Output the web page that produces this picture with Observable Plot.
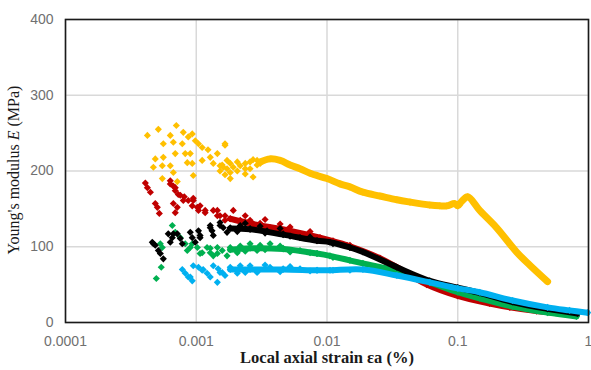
<!DOCTYPE html>
<html>
<head>
<meta charset="utf-8">
<script src="https://cdn.jsdelivr.net/npm/d3@7"></script>
<script src="https://cdn.jsdelivr.net/npm/@observablehq/plot@0.6"></script>
<style>
html,body{margin:0;padding:0;background:#fff;}
</style>
</head>
<body>
<div id="chart"></div>
<script>
const xTicks = [0.0001, 0.001, 0.01, 0.1, 1];
const xTickLabels = ["0.0001", "0.001", "0.01", "0.1", "1"];
const yTicks = [0, 100, 200, 300, 400];
const seriesNames = ["orange", "red", "green", "black", "blue"];
const seriesColors = ["#FFC000", "#C00000", "#00B050", "#000000", "#00B0F0"];

const orangeScatter = [[0.000423,247],[0.000513,255],[0.000704,260],[0.000633,247],[0.000796,251],[0.000932,249],[0.000869,245],[0.00056,236],[0.000668,238],[0.000782,236],[0.000983,240],[0.00104,236],[0.00111,231],[0.00123,228],[0.00166,236],[0.000486,216],[0.00056,218],[0.000691,223],[0.000824,223],[0.0009,223],[0.000633,207],[0.00055,207],[0.000854,211],[0.000932,210],[0.00111,214],[0.00128,218],[0.00145,223],[0.00055,190],[0.000668,198],[0.000716,186],[0.000949,194],[0.00135,210],[0.00161,205],[0.00172,214],[0.00047,205],[0.00152,200],[0.00158,208],[0.00166,195],[0.00172,203],[0.00182,210],[0.00182,198],[0.00192,205],[0.00206,212],[0.00206,200],[0.00217,207],[0.00237,196],[0.00237,210],[0.00258,203],[0.00258,212],[0.00272,215],[0.00292,208],[0.00292,214],[0.00308,210],[0.00166,234],[0.00182,190],[0.00272,192],[0.00152,207],[0.00237,203]];
const orangeCurve = [[0.00308,212],[0.00367,216],[0.00438,214],[0.00522,208],[0.00622,203],[0.00742,197],[0.01,190],[0.01257,183],[0.01498,179],[0.01883,172],[0.02539,167],[0.03422,162],[0.04301,159],[0.06114,155],[0.07289,154],[0.08241,154],[0.09486,157],[0.1,154],[0.1073,160],[0.1192,166],[0.1472,148],[0.1985,125],[0.282,93],[0.3545,76],[0.4864,54]];

const redScatter = [[0.000408,184],[0.000423,178],[0.000446,172],[0.000486,157],[0.000504,152],[0.000522,144],[0.000633,183],[0.000668,180],[0.000691,174],[0.000729,169],[0.000668,157],[0.000716,152],[0.000691,145],[0.00081,166],[0.000869,161],[0.000932,154],[0.00102,152],[0.00104,148],[0.000949,164],[0.00117,145],[0.00145,148],[0.00152,141],[0.00166,135],[0.000633,187],[0.000691,178],[0.000755,168],[0.000796,161],[0.000949,161],[0.00107,154],[0.00117,148],[0.00135,148],[0.00145,141],[0.00166,141],[0.00182,137],[0.00217,135],[0.00192,148],[0.00258,135],[0.00308,131],[0.00367,125],[0.00462,121],[0.00622,117],[0.00839,112],[0.01111,108],[0.01498,102],[0.00237,141],[0.00336,136],[0.00438,130],[0.00522,126],[0.00742,120]];
const redCurve = [[0.00182,137],[0.00272,130],[0.00495,122],[0.00884,112],[0.01421,102],[0.02539,85],[0.03422,73],[0.05801,50],[0.1,35],[0.1755,25],[0.25,20],[0.4,15],[0.6,12]];

const greenScatter = [[0.000656,128],[0.000531,104],[0.00055,99],[0.00054,73],[0.000495,58],[0.000691,119],[0.000755,112],[0.000824,104],[0.000854,95],[0.000932,104],[0.00102,99],[0.00111,92],[0.00121,99],[0.00128,92],[0.00135,88],[0.00145,99],[0.00158,95],[0.00172,88],[0.0009,99],[0.00107,91],[0.00128,98],[0.00145,91],[0.00182,99],[0.00206,92],[0.00258,104],[0.00292,95],[0.00367,104],[0.00462,98],[0.00622,95],[0.00839,91],[0.01111,86],[0.01498,82],[0.00217,101],[0.00237,94],[0.00308,102],[0.00336,96],[0.00438,101],[0.00522,93],[0.00742,92]];
const greenCurve = [[0.00182,96],[0.00258,98],[0.00462,97],[0.00839,91],[0.01054,88],[0.01883,78],[0.03422,68],[0.06114,53],[0.1,40],[0.1472,32],[0.2629,21],[0.4864,13],[0.8097,8]];

const blackScatter = [[0.000461,106],[0.000486,102],[0.000513,95],[0.00056,84],[0.000531,91],[0.000611,117],[0.000656,112],[0.000633,106],[0.000755,111],[0.000716,117],[0.0009,119],[0.000932,112],[0.000983,106],[0.00104,121],[0.00107,115],[0.00128,128],[0.00132,121],[0.00135,115],[0.00152,132],[0.00161,125],[0.00172,119],[0.00047,104],[0.000668,117],[0.000782,104],[0.00107,112],[0.00128,125],[0.00152,128],[0.00182,125],[0.00217,128],[0.00258,124],[0.00348,121],[0.00462,117],[0.00622,112],[0.00839,108],[0.01111,104],[0.01498,99],[0.00206,120],[0.00237,131],[0.00308,127],[0.00336,118],[0.00438,124],[0.00522,114],[0.00742,113]];
const blackCurve = [[0.00182,124],[0.00258,123],[0.00462,116],[0.00839,108],[0.01054,106],[0.01498,99],[0.01883,93],[0.03422,73],[0.06114,55],[0.1,46],[0.1472,39],[0.2629,27],[0.4864,18],[0.8241,12]];

const blueScatter = [[0.000782,70],[0.000824,65],[0.000869,60],[0.000932,55],[0.000949,75],[0.00104,73],[0.00111,69],[0.00121,65],[0.00128,60],[0.00135,75],[0.00147,71],[0.00158,66],[0.00166,62],[0.0009,60],[0.00113,70],[0.00145,53],[0.00152,66],[0.00182,73],[0.00206,65],[0.00258,75],[0.00292,66],[0.00367,73],[0.00462,71],[0.00622,71],[0.00839,69],[0.01111,69],[0.01498,69],[0.00217,75],[0.00237,66],[0.00336,76],[0.00438,67],[0.00522,74],[0.00742,68]];
const blueCurve = [[0.00182,70],[0.00258,70],[0.00462,70],[0.00839,69],[0.01054,69],[0.01883,70],[0.03422,62],[0.06114,53],[0.1,45],[0.1472,40],[0.2629,29],[0.4864,20],[0.7161,16],[0.9826,13]];

const scatters = [orangeScatter, redScatter, greenScatter, blackScatter, blueScatter];
const curves = [orangeCurve, redCurve, greenCurve, blackCurve, blueCurve];

const marks = [
  Plot.gridX(xTicks, {stroke: "#d9d9d9", strokeOpacity: 1, strokeWidth: 1.5}),
  Plot.gridY(yTicks, {stroke: "#d9d9d9", strokeOpacity: 1, strokeWidth: 1.5})
];
seriesNames.forEach((name, i) => {
  const c = seriesColors[i];
  marks.push(Plot.line(curves[i], {x: d => d[0], y: d => d[1], stroke: c, strokeWidth: i === 0 ? 7 : 6, strokeLinecap: "round", strokeLinejoin: "round", curve: "catmull-rom"}));
  marks.push(Plot.dot(curves[i], {x: d => d[0], y: d => d[1], fill: c, symbol: "diamond2", r: 3.2}));
  marks.push(Plot.dot(scatters[i], {x: d => d[0], y: d => d[1], fill: c, symbol: "diamond2", r: 3.2}));
});
marks.push(Plot.frame({stroke: "#1a1a1a", strokeWidth: 1.6}));
marks.push(Plot.axisX(xTicks, {tickSize: 0, tickPadding: 14, tickFormat: d => xTickLabels[xTicks.indexOf(d)], label: null, fill: "#707070", fontSize: 14}));
marks.push(Plot.axisY(yTicks, {tickSize: 0, tickPadding: 12, label: null, fill: "#707070", fontSize: 14}));

const svg = Plot.plot({
  width: 591,
  height: 370,
  marginLeft: 65,
  marginRight: 3,
  marginTop: 19,
  marginBottom: 48,
  style: {fontFamily: "'Liberation Sans', Arial, sans-serif", fontSize: "14px", background: "#fff", overflow: "visible"},
  x: {type: "log", domain: [0.0001, 1]},
  y: {domain: [0, 400]},
  marks
});

const s = d3.select(svg);
const yt = s.append("text")
  .attr("transform", "translate(19,170) rotate(-90)")
  .attr("text-anchor", "middle")
  .attr("font-family", "'Liberation Serif', 'Times New Roman', serif")
  .attr("font-size", 16)
  .attr("fill", "#1a1a1a");
yt.append("tspan").text("Young's modulus ");
yt.append("tspan").attr("font-style", "italic").text("E");
yt.append("tspan").text(" (MPa)");

s.append("text")
  .attr("x", 327).attr("y", 363)
  .attr("text-anchor", "middle")
  .attr("font-family", "'Liberation Serif', 'Times New Roman', serif")
  .attr("font-size", 16.5)
  .attr("font-weight", "bold")
  .attr("fill", "#1a1a1a")
  .text("Local axial strain εa (%)");

document.getElementById("chart").appendChild(svg);
</script>
</body>
</html>
